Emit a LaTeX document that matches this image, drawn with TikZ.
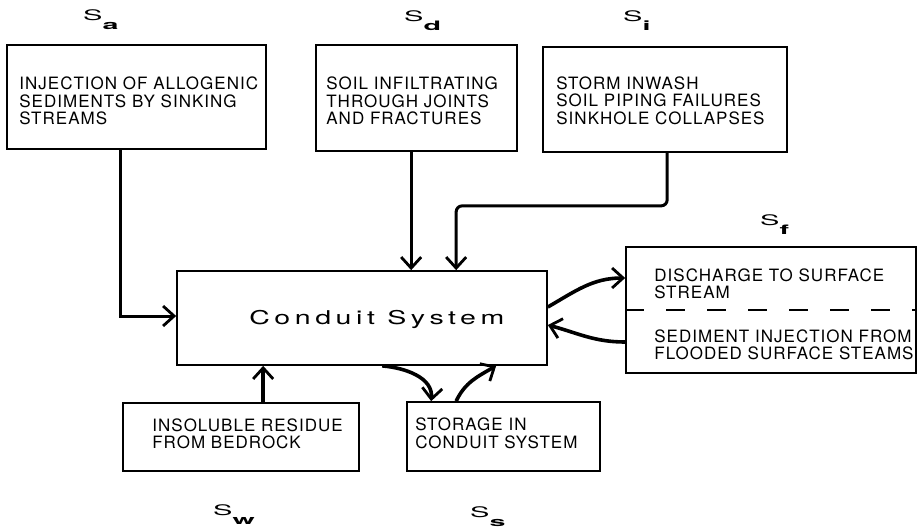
\documentclass[tikz,border=0pt]{standalone}
\usepackage{fontspec}
\setmainfont{TeX Gyre Heros}
\newfontfamily\boxfont[LetterSpace=6]{TeX Gyre Heros}
\newfontfamily\bigfont[LetterSpace=16]{TeX Gyre Heros}
\usetikzlibrary{arrows.meta}
\newcommand{\slab}[1]{\scalebox{2.0}[1]{\fontsize{14.5}{14.5}\selectfont S}\raisebox{-9pt}{\scalebox{2.2}[1]{\fontsize{13}{13}\selectfont\bfseries #1}}}
\begin{document}
\begin{tikzpicture}[x=1pt,y=-1pt,
  boxstyle/.style={draw=black,line width=1.7pt,inner sep=0pt},
  arr/.style={line width=3pt,-{Straight Barb[length=11pt,width=20pt,line width=2.8pt]}},
  carr/.style={line width=3.6pt,-{Straight Barb[length=11pt,width=20pt,line width=2.8pt]}},
  txt/.style={inner sep=0pt,align=left,anchor=west,font=\fontsize{17}{17.5}\boxfont},
  lab/.style={inner sep=0pt,anchor=base west}]
\useasboundingbox (0,0) rectangle (920,528);
\fill[white] (0,0) rectangle (920,528);
% top boxes
\node[boxstyle,minimum width=259pt,minimum height=104pt] (sa) at (136.5,97) {};
\node[txt] (saT) at ([xshift=13pt,yshift=-4pt]sa.west) {INJECTION OF ALLOGENIC\\SEDIMENTS BY SINKING\\STREAMS};
\node[boxstyle,minimum width=201pt,minimum height=106pt] (sd) at (416.5,98) {};
\node[txt] (sdT) at ([xshift=11pt,yshift=-3pt]sd.west) {SOIL INFILTRATING\\THROUGH JOINTS\\AND FRACTURES};
\node[boxstyle,minimum width=244pt,minimum height=105pt] (si) at (665,99.5) {};
\node[txt] (siT) at ([xshift=14pt,yshift=-1pt]si.west) {STORM INWASH\\SOIL PIPING FAILURES\\SINKHOLE COLLAPSES};
% conduit
\node[boxstyle,minimum width=370pt,minimum height=94pt] (conduit) at (362,318) {};
\node[inner sep=0pt,anchor=west] (cT) at ([xshift=73pt,yshift=-1pt]conduit.west)
  {\scalebox{1.5}[1]{\fontsize{19}{19}\bigfont Conduit System}};
% surface box
\node[boxstyle,minimum width=290pt,minimum height=126pt] (sf) at (771,310) {};
\draw[line width=1.7pt,dash pattern=on 19pt off 22pt] (sf.west) -- (sf.east);
\node[txt] (sfup) at ([xshift=29pt,yshift=26pt]sf.west) {DISCHARGE TO SURFACE\\STREAM};
\node[txt] (sflow) at ([xshift=29pt,yshift=-35pt]sf.west) {SEDIMENT INJECTION FROM\\FLOODED SURFACE STEAMS};
% bottom boxes
\node[boxstyle,minimum width=236pt,minimum height=68pt] (insol) at (241,437) {};
\node[txt] (insolT) at ([xshift=30pt,yshift=3pt]insol.west) {INSOLUBLE RESIDUE\\FROM BEDROCK};
\node[boxstyle,minimum width=193pt,minimum height=69pt] (stor) at (503.5,436.5) {};
\node[txt] (storT) at ([xshift=9pt,yshift=3pt]stor.west) {STORAGE IN\\CONDUIT SYSTEM};
% labels
\node[lab] (la) at (83,20) {\slab{a}};
\node[lab] (ld) at (404,21) {\slab{d}};
\node[lab] (li) at (623,21) {\slab{i}};
\node[lab] (lf) at (760,225) {\slab{f}};
\node[lab] (lw) at (213,515) {\slab{w}};
\node[lab] (ls) at (470,517) {\slab{s}};
% connectors
\draw[arr] ([xshift=114pt]sa.south west) |- ([yshift=2pt]conduit.west);
\draw[arr] ([xshift=96pt]sd.south west) coordinate (sdA) -- (sdA |- conduit.north);
\coordinate (siEnd) at ([xshift=280pt]conduit.north west);
\draw[arr,rounded corners=6pt] ([xshift=125pt]si.south west) -- ++(0,53) -| (siEnd);
\draw[carr] ([xshift=141pt]insol.north west) coordinate (inA) -- (inA |- conduit.south);
\draw[carr] ([yshift=11pt]conduit.east) to[out=30,in=180] ([yshift=32pt]sf.west);
\draw[carr] ([yshift=-32pt]sf.west) to[out=180,in=-15] ([yshift=-7pt]conduit.east);
\draw[carr] ([xshift=206pt]conduit.south west) to[out=-5,in=85] ([xshift=25pt]stor.north west);
\draw[carr] ([xshift=50pt]stor.north west) to[out=65,in=210] ([xshift=320pt]conduit.south west);
\end{tikzpicture}
\end{document}
